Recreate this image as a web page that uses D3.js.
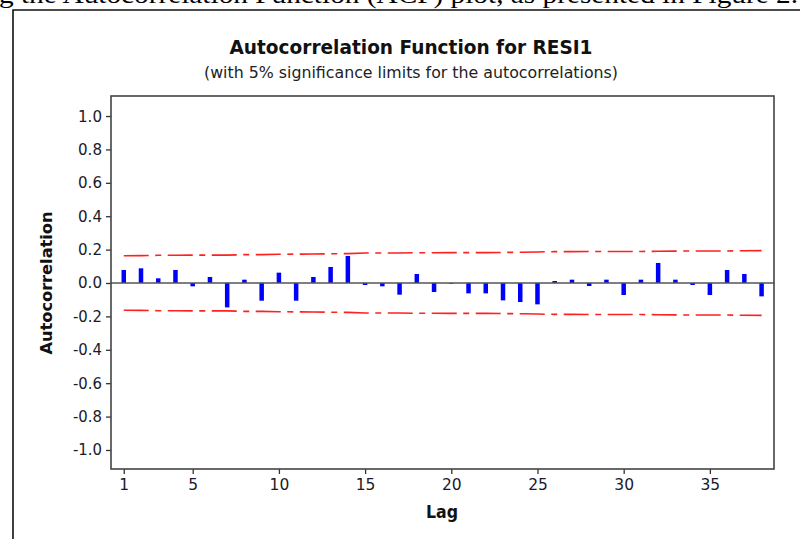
<!DOCTYPE html>
<html><head><meta charset="utf-8">
<script src="https://cdn.jsdelivr.net/npm/d3@7"></script>
<style>
html,body{margin:0;padding:0;background:#fff;}
svg{display:block;}
</style></head>
<body>
<svg id="c" width="800" height="539"></svg>
<script>
// Data
const lags = d3.range(1, 39);
const acf = [0.078, 0.088, 0.028, 0.078, -0.020, 0.036, -0.146, 0.020, -0.106, 0.062,
             -0.106, 0.036, 0.096, 0.162, -0.012, -0.020, -0.070, 0.054, -0.054, -0.004,
             -0.062, -0.062, -0.104, -0.114, -0.128, 0.012, 0.020, -0.018, 0.020, -0.072,
             0.020, 0.120, 0.020, -0.012, -0.072, 0.078, 0.054, -0.080];
const limits = [0.163, 0.164, 0.166, 0.166, 0.167, 0.167, 0.167, 0.170, 0.170, 0.172,
                0.173, 0.174, 0.175, 0.176, 0.180, 0.180, 0.180, 0.181, 0.181, 0.182,
                0.182, 0.182, 0.183, 0.184, 0.186, 0.188, 0.188, 0.189, 0.189, 0.189,
                0.189, 0.190, 0.191, 0.192, 0.192, 0.192, 0.193, 0.194];
const yTicks = [-1.0, -0.8, -0.6, -0.4, -0.2, 0.0, 0.2, 0.4, 0.6, 0.8, 1.0];
const yTickLabels = ["-1.0", "-0.8", "-0.6", "-0.4", "-0.2", "0.0", "0.2", "0.4", "0.6", "0.8", "1.0"];
const xTicks = [1, 5, 10, 15, 20, 25, 30, 35];
const title = "Autocorrelation Function for RESI1";
const subtitle = "(with 5% significance limits for the autocorrelations)";
const topText = "g the Autocorrelation Function (ACF) plot, as presented in Figure 2.";

const svg = d3.select("#c");
const L = 111, R = 774, T = 96, B = 469;
const x = d3.scaleLinear().domain([0.26, 38.72]).range([L, R]);
const y = d3.scaleLinear().domain([-1.114, 1.12]).range([B, T]);
const sans = "'DejaVu Sans', 'Noto Sans', sans-serif";

// Page fragments
svg.append("text").attr("x", -1).attr("y", 3)
  .attr("font-family", "'Liberation Serif', 'Times New Roman', serif")
  .attr("font-size", 25).attr("fill", "#000")
  .attr("textLength", 799).attr("lengthAdjust", "spacingAndGlyphs")
  .text(topText);
svg.append("path").attr("d", "M13,539 L13,10 L800,10")
  .attr("fill", "none").attr("stroke", "#111").attr("stroke-width", 1.6);

// Titles
svg.append("text").attr("x", 411).attr("y", 54).attr("text-anchor", "middle")
  .attr("font-family", sans)
  .attr("font-weight", "bold").attr("font-size", 19).attr("fill", "#111")
  .attr("textLength", 363).attr("lengthAdjust", "spacingAndGlyphs")
  .text(title);
svg.append("text").attr("x", 411).attr("y", 78).attr("text-anchor", "middle")
  .attr("font-family", sans)
  .attr("font-size", 15.5).attr("fill", "#222")
  .attr("textLength", 414).attr("lengthAdjust", "spacingAndGlyphs")
  .text(subtitle);

// Axes
const yAxis = svg.append("g").attr("transform", `translate(${L},0)`)
  .call(d3.axisLeft(y).tickValues(yTicks).tickSize(5).tickPadding(4)
    .tickFormat((d, i) => yTickLabels[i]));
const xAxis = svg.append("g").attr("transform", `translate(0,${B})`)
  .call(d3.axisBottom(x).tickValues(xTicks).tickSize(5).tickPadding(5));
[yAxis, xAxis].forEach(g => {
  g.select(".domain").remove();
  g.selectAll(".tick line").attr("stroke", "#333").attr("stroke-width", 1.3);
  g.selectAll(".tick text")
    .attr("font-family", sans)
    .attr("font-size", 15.5).attr("fill", "#1a1a2a");
});
yAxis.selectAll(".tick text").each(function() {
  const t = d3.select(this);
  t.attr("textLength", t.text().length > 3 ? 29 : 24).attr("lengthAdjust", "spacingAndGlyphs");
});

// Axis labels
svg.append("text").attr("x", 442).attr("y", 518).attr("text-anchor", "middle")
  .attr("font-family", sans)
  .attr("font-weight", "bold").attr("font-size", 17.5).attr("fill", "#111")
  .attr("textLength", 32).attr("lengthAdjust", "spacingAndGlyphs").text("Lag");
svg.append("text").attr("transform", `translate(52,${y(0)}) rotate(-90)`)
  .attr("text-anchor", "middle")
  .attr("font-family", sans)
  .attr("font-weight", "bold").attr("font-size", 16.5).attr("fill", "#111")
  .attr("textLength", 143).attr("lengthAdjust", "spacingAndGlyphs")
  .text("Autocorrelation");

// Significance limits
const limLine = d3.line().x((d, i) => x(lags[i]));
const dash = "25,6.5,6,6.5";
svg.append("path").attr("d", limLine.y((d) => y(d))(limits))
  .attr("fill", "none").attr("stroke", "#ff2020").attr("stroke-width", 1.6)
  .attr("stroke-dasharray", dash);
svg.append("path").attr("d", limLine.y((d) => y(-d))(limits))
  .attr("fill", "none").attr("stroke", "#ff2020").attr("stroke-width", 1.6)
  .attr("stroke-dasharray", dash);

// Bars
const bw = 4.5;
svg.append("g").selectAll("rect").data(acf).join("rect")
  .attr("x", (d, i) => x(lags[i]) - bw / 2)
  .attr("y", d => Math.min(y(d), y(0)))
  .attr("width", bw)
  .attr("height", d => Math.abs(y(d) - y(0)))
  .attr("fill", "#0000ff");

// Zero line
svg.append("line").attr("x1", L).attr("x2", R).attr("y1", y(0)).attr("y2", y(0))
  .attr("stroke", "#555").attr("stroke-width", 1.5);

// Plot frame
svg.append("rect").attr("x", L).attr("y", T).attr("width", R - L).attr("height", B - T)
  .attr("fill", "none").attr("stroke", "#444").attr("stroke-width", 1.6);
</script>
</body></html>
